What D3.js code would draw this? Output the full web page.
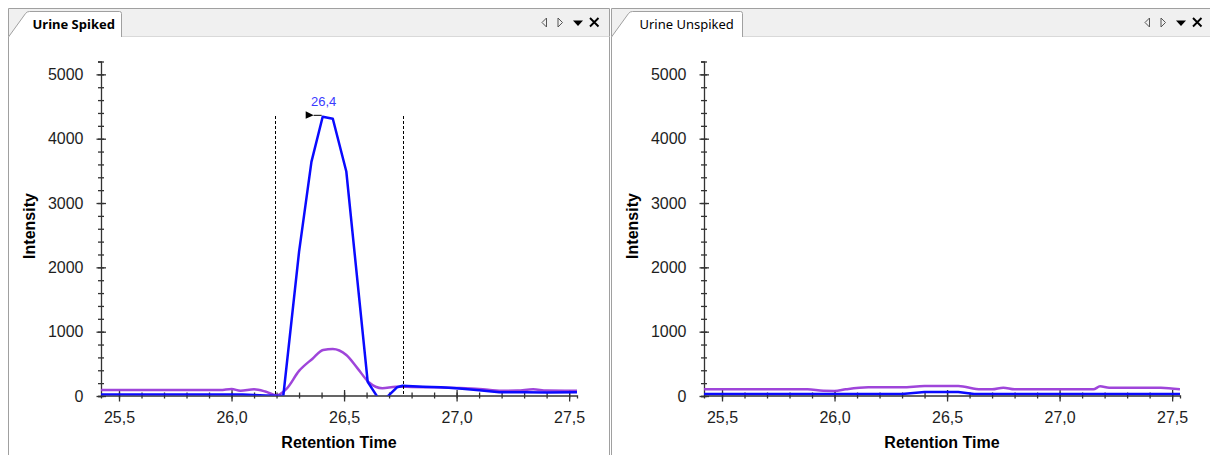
<!DOCTYPE html>
<html>
<head>
<meta charset="utf-8">
<script src="https://cdn.jsdelivr.net/npm/d3@7/dist/d3.min.js"></script>
<style>
  body { margin: 0; background: #fff; }
  svg { display: block; font-family: "Liberation Sans", Arial, sans-serif; }
  .tab-title { font-family: "Noto Sans", sans-serif; font-size: 13px; fill: #000; }
  .tick text { font-size: 16px; fill: #1e1e1e; }
  .axis-title { font-size: 16px; font-weight: bold; fill: #000; }
</style>
</head>
<body>
<svg id="chart" width="1210" height="455"></svg>
<script>
// panel titles + axis ticks
var panelTitles = ["Urine Spiked", "Urine Unspiked"]
var xTicks = [25.5, 26.0, 26.5, 27.0, 27.5]
var yTicks = [0, 1000, 2000, 3000, 4000, 5000]

// Urine Spiked - blue trace
var spikedBlueTime = [25.42, 25.6, 25.8, 26.0, 26.05, 26.1, 26.15, 26.23, 26.30, 26.355, 26.405, 26.45, 26.51, 26.605, 26.665, 26.735, 26.76, 26.85, 26.93, 27.0, 27.1, 27.19, 27.3, 27.4, 27.535]
var spikedBlue     = [25, 25, 25, 25, 22, 15, 8, 0, 2240, 3640, 4340, 4310, 3490, 220, -105, 135, 160, 145, 135, 120, 90, 58, 58, 55, 58]

// Urine Spiked - purple trace
var spikedPurpleTime = [25.42, 25.6, 25.8, 25.95, 26.0, 26.04, 26.1, 26.15, 26.2, 26.244, 26.30, 26.36, 26.407, 26.45, 26.51, 26.56, 26.61, 26.67, 26.73, 26.8, 26.9, 27.0, 27.1, 27.2, 27.27, 27.34, 27.4, 27.535]
var spikedPurple     = [93, 93, 93, 93, 109, 82, 104, 70, 10, 110, 390, 580, 715, 731, 637, 430, 213, 120, 145, 140, 135, 125, 110, 82, 85, 104, 85, 82]

// Urine Unspiked - blue trace
var unspikedBlueTime = [25.42, 26.3, 26.4, 26.55, 26.62, 27.535]
var unspikedBlue     = [31, 31, 62, 62, 31, 31]

// Urine Unspiked - purple trace
var unspikedPurpleTime = [25.42, 25.88, 25.95, 26.0, 26.05, 26.15, 26.3, 26.4, 26.55, 26.65, 26.7, 26.75, 26.8, 27.15, 27.18, 27.22, 27.45, 27.535]
var unspikedPurple     = [104, 104, 80, 78, 104, 135, 135, 155, 155, 104, 104, 130, 104, 104, 150, 130, 130, 104]

// integration window + apex label (spiked only)
var peakWindow = [26.195, 26.76]
var apexTime = 26.405
var apexValue = 4340
var apexLabel = "26,4"

/////////////

var svg = d3.select("#chart")
var comma = d3.formatLocale({decimal: ",", thousands: ".", grouping: [3], currency: ["", ""]})
var fmtX = comma.format(".1f")

var blueColor = "#0a0aff"
var purpleColor = "#9a3bd8"

var panels = [
  {title: panelTitles[0], bold: true, dx: 0, tabW: 113,
   series: [[spikedPurpleTime, spikedPurple, purpleColor, true], [spikedBlueTime, spikedBlue, blueColor, false]],
   peak: true},
  {title: panelTitles[1], bold: false, dx: 603, tabW: 131,
   series: [[unspikedPurpleTime, unspikedPurple, purpleColor, true], [unspikedBlueTime, unspikedBlue, blueColor, false]],
   peak: false}
]

panels.forEach(function(p, i) {
  var g = svg.append("g").attr("transform", "translate(" + p.dx + ",0)")

  // frame + tab strip
  var left = 8.5, right = 609.5, top = 8.5, stripBottom = 36.5
  g.append("rect").attr("x", left).attr("y", top).attr("width", right - left).attr("height", stripBottom - top)
    .attr("fill", "#f0f0f0")
  g.append("path")
    .attr("d", `M${left},${top} H${right} V460 M${left},${top} V460`)
    .attr("fill", "none").attr("stroke", "#a0a0a0")
  g.append("line").attr("x1", left).attr("x2", right).attr("y1", stripBottom).attr("y2", stripBottom)
    .attr("stroke", "#d9d9d9")
  var tr = left + p.tabW
  g.append("path")
    .attr("d", `M${left},${stripBottom + 0.5} L${left + 17},13.5 Q${left + 18.5},11.5 ${left + 21},11.5 H${tr - 2} Q${tr},11.5 ${tr},13.5 V${stripBottom + 0.5}`)
    .attr("fill", "#fff").attr("stroke", "#a0a0a0")
  g.append("text").attr("class", "tab-title")
    .attr("x", left + (p.bold ? 24 : 28)).attr("y", 28.5)
    .attr("font-weight", p.bold ? "bold" : "normal")
    .text(p.title)

  // little strip buttons
  var icons = g.append("g").attr("transform", "translate(" + (right - 68) + ",0)")
  icons.append("path").attr("d", "M5,18 L0.5,22.5 L5,27 Z").attr("fill", "none").attr("stroke", "#555")
  icons.append("path").attr("d", "M16.5,18 L21,22.5 L16.5,27 Z").attr("fill", "none").attr("stroke", "#555")
  icons.append("path").attr("d", "M31.5,20.5 H41.5 L36.5,26 Z").attr("fill", "#000")
  icons.append("path").attr("d", "M48.5,18 L57,26.5 M57,18 L48.5,26.5").attr("stroke", "#000").attr("stroke-width", 1.9)

  // scales
  var x = d3.scaleLinear().domain([25.42, 27.535]).range([101, 577])
  var y = d3.scaleLinear().domain([0, 5200]).range([396, 61.5])

  var axisY = g.append("g").attr("transform", "translate(101,0)")
  axisY.call(d3.axisLeft(y).tickValues(d3.range(0, 5201, 200)).tickSize(3).tickFormat(""))
  axisY.selectAll(".tick line").attr("x1", 3)
  var majorY = g.append("g").attr("transform", "translate(101,0)")
  majorY.call(d3.axisLeft(y).tickValues(yTicks).tickSize(4.5).tickPadding(13).tickFormat(d3.format("d")))
  majorY.selectAll(".tick line").attr("x1", 5)
  majorY.select(".domain").remove()

  var axisX = g.append("g").attr("transform", "translate(0,395.5)")
  axisX.call(d3.axisBottom(x).tickValues(d3.range(25.5, 27.51, 0.1)).tickSize(3).tickFormat(""))
  axisX.selectAll(".tick line").attr("y1", -3)
  var majorX = g.append("g").attr("transform", "translate(0,395.5)")
  majorX.call(d3.axisBottom(x).tickValues(xTicks).tickSize(6).tickFormat(fmtX))
  majorX.selectAll(".tick line").attr("y1", -5.5)
  majorX.selectAll(".tick text").attr("y", 27.5).attr("dy", 0)
  majorX.select(".domain").remove()

  svg.selectAll(".domain").attr("stroke", "#333").attr("stroke-width", 1.3)
  g.selectAll(".tick line").attr("stroke", "#333").attr("stroke-width", 1.3)

  g.append("text").attr("class", "axis-title")
    .attr("text-anchor", "middle").attr("x", 339).attr("y", 448)
    .text("Retention Time")
  g.append("text").attr("class", "axis-title")
    .attr("text-anchor", "middle").attr("transform", "translate(35,226) rotate(-90)")
    .text("Intensity")

  // traces, clipped to plot area
  g.append("clipPath").attr("id", "clip" + i)
    .append("rect").attr("x", 101).attr("y", 40).attr("width", 476).attr("height", 355.5)
  var plot = g.append("g").attr("clip-path", "url(#clip" + i + ")")

  p.series.forEach(function(s) {
    var line = d3.line()
      .x(function(d, k) { return x(s[0][k]) })
      .y(function(d) { return y(d) })
      .curve(s[3] ? d3.curveMonotoneX : d3.curveLinear)
    plot.append("path")
      .attr("d", line(s[1]))
      .attr("fill", "none")
      .attr("stroke", s[2])
      .attr("stroke-width", 2.5)
      .attr("stroke-linejoin", "round")
      .attr("opacity", s[3] ? 0.95 : 1)
  })

  if (p.peak) {
    peakWindow.forEach(function(t) {
      g.append("line")
        .attr("x1", Math.round(x(t)) + 0.5).attr("x2", Math.round(x(t)) + 0.5)
        .attr("y1", 116).attr("y2", 395)
        .attr("stroke", "#000").attr("stroke-dasharray", "3,2")
    })
    var ax = x(apexTime), ay = y(apexValue)
    g.append("line").attr("x1", ax - 9).attr("x2", ax - 1).attr("y1", ay - 1.5).attr("y2", ay - 1.5)
      .attr("stroke", "#000")
    g.append("path")
      .attr("d", `M${ax - 17},${ay - 5.5} L${ax - 9},${ay - 1.5} L${ax - 17},${ay + 2} Z`)
      .attr("fill", "#000")
    g.append("text")
      .attr("x", ax + 1).attr("y", ay - 10.5)
      .attr("text-anchor", "middle")
      .attr("font-size", "13px")
      .attr("fill", "#3a3aff")
      .text(apexLabel)
  }
})
</script>
</body>
</html>
